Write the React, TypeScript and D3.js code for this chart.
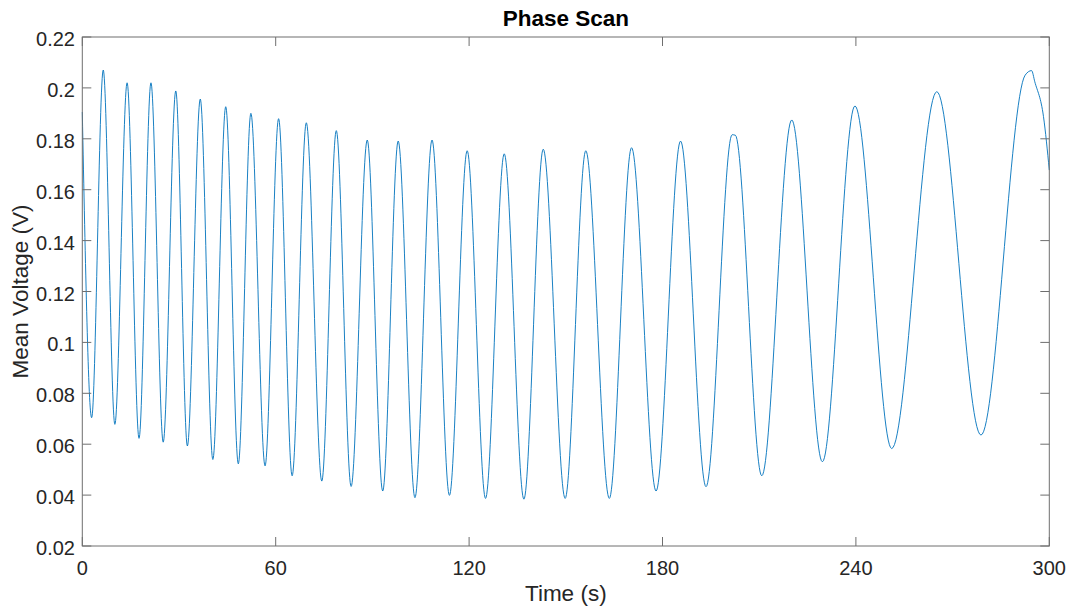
import React from "react";
import * as d3 from "d3";

// Time (s) and mean voltage (V) at the turning points of the trace
const times: number[] = [
  0, 2.9, 6.5, 10.1, 13.9, 17.6, 21.3, 25.1, 29.0, 32.6, 36.6, 40.5, 44.5, 48.4,
  52.3, 56.7, 60.9, 65.1, 69.5, 74.3, 78.8, 83.4, 88.4, 93.2, 98.0, 103.2,
  108.5, 113.9, 119.4, 125.1, 130.9, 137.0, 143.0, 149.8, 156.2, 163.5, 170.4,
  178.0, 185.6, 193.5, 201.6, 202.6, 210.8, 220.1, 229.6, 239.7, 251.1, 265.1,
  278.8, 292.5, 294.5, 295.5, 298.2, 300,
];
const voltages: number[] = [
  0.1905, 0.0704, 0.207, 0.0678, 0.202, 0.0623, 0.202, 0.0608, 0.1988, 0.0593,
  0.1956, 0.054, 0.1926, 0.0523, 0.19, 0.0515, 0.1879, 0.0476, 0.1863, 0.0455,
  0.1832, 0.0434, 0.1795, 0.0416, 0.1791, 0.039, 0.1795, 0.0399, 0.1753,
  0.0387, 0.1741, 0.0384, 0.1759, 0.0387, 0.1753, 0.0387, 0.1765, 0.0416,
  0.1791, 0.0433, 0.1816, 0.1814, 0.0476, 0.1874, 0.0531, 0.1929, 0.0583,
  0.1985, 0.0636, 0.205, 0.2068, 0.2024, 0.1887, 0.1677,
];

const xTicks: number[] = [0, 60, 120, 180, 240, 300];
const yTicks: number[] = [0.02, 0.04, 0.06, 0.08, 0.1, 0.12, 0.14, 0.16, 0.18, 0.2, 0.22];

const W = 1071;
const H = 611;
const left = 82.3;
const right = 1049.3;
const top = 37;
const bottom = 546;

export default function App() {
  const x = d3.scaleLinear().domain([0, 300]).range([left, right]);
  const y = d3.scaleLinear().domain([0.02, 0.22]).range([bottom, top]);
  const pts = times.map((t, i) => [t, voltages[i]] as [number, number]);
  const line = d3
    .line<[number, number]>()
    .x((d) => x(d[0]))
    .y((d) => y(d[1]))
    .curve(d3.curveMonotoneX);
  const axisColor = "#6e6e6e";
  const textColor = "#262626";
  const font = "'Liberation Sans', Arial, Helvetica, sans-serif";
  const tickLen = 9;
  return (
    <svg
      width={W}
      height={H}
      style={{ position: "absolute", left: 0, top: 0, background: "#fff" }}
      fontFamily={font}
    >
      <rect x={0} y={0} width={W} height={H} fill="#fff" />
      <path d={line(pts) || ""} fill="none" stroke="#0072BD" strokeWidth={1} opacity={0.9} />
      {/* box */}
      <rect
        x={left}
        y={top}
        width={right - left}
        height={bottom - top}
        fill="none"
        stroke={axisColor}
        strokeWidth={1}
      />
      {xTicks.map((t) => (
        <g key={"x" + t}>
          <line x1={x(t)} x2={x(t)} y1={bottom} y2={bottom - tickLen} stroke={axisColor} />
          <line x1={x(t)} x2={x(t)} y1={top} y2={top + tickLen} stroke={axisColor} />
          <text x={x(t)} y={575} textAnchor="middle" fontSize={20} fill={textColor}>
            {t}
          </text>
        </g>
      ))}
      {yTicks.map((v) => (
        <g key={"y" + v}>
          <line x1={left} x2={left + tickLen} y1={y(v)} y2={y(v)} stroke={axisColor} />
          <line x1={right} x2={right - tickLen} y1={y(v)} y2={y(v)} stroke={axisColor} />
          <text x={75} y={y(v) + 9} textAnchor="end" fontSize={20} fill={textColor}>
            {d3.format("~g")(v)}
          </text>
        </g>
      ))}
      <text
        x={(left + right) / 2}
        y={26}
        textAnchor="middle"
        fontSize={22.5}
        fontWeight="bold"
        fill="#000"
      >
        Phase Scan
      </text>
      <text x={(left + right) / 2} y={601} textAnchor="middle" fontSize={22.5} fill={textColor}>
        Time (s)
      </text>
      <text
        transform={`translate(28, ${(top + bottom) / 2}) rotate(-90)`}
        textAnchor="middle"
        fontSize={22.5}
        fill={textColor}
      >
        Mean Voltage (V)
      </text>
    </svg>
  );
}
